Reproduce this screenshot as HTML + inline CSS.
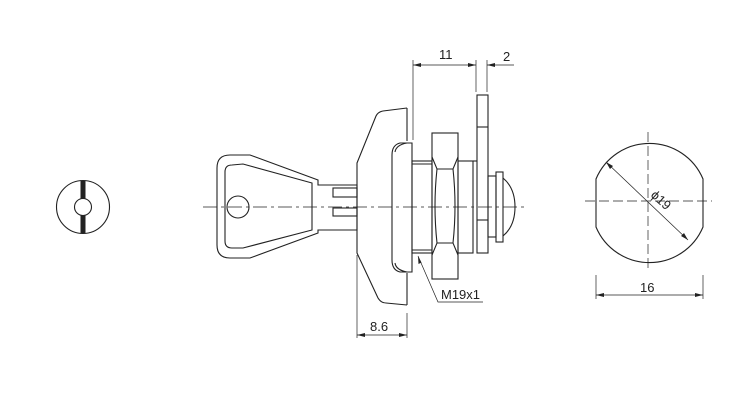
<!DOCTYPE html>
<html><head><style>
html,body{margin:0;padding:0;background:#fff}
svg{display:block}
text{font-family:"Liberation Sans",sans-serif;font-size:13px;fill:#222}
</style></head><body>
<svg width="751" height="401" viewBox="0 0 751 401" xmlns="http://www.w3.org/2000/svg">
<g fill="none" stroke="#222" stroke-width="1.1">
<circle cx="83" cy="207" r="26.5"/>
<rect x="80.5" y="181" width="5" height="52" fill="#222" stroke="none"/>
<circle cx="83" cy="207" r="8.5" fill="#fff"/>

<line x1="203" y1="207" x2="528" y2="207" stroke-width="0.7" stroke-dasharray="14,4,3,4"/>

<path d="M217,168 Q217,155 230,155 L250,155 L318,180 L318,185 L357,185 L357,230 L318,230 L318,233 L250,258 L230,258 Q217,258 217,245 Z"/>
<path d="M225,172 Q225,165 232,165 L243,164 L312,183 L312,230 L243,248 L232,248 Q225,248 225,241 Z"/>
<circle cx="238" cy="207" r="11"/>
<rect x="333" y="188" width="24" height="9"/>
<rect x="333" y="208" width="24" height="8"/>

<path d="M407,108 L383,111 Q378,112 376,116 L357,163 L357,253 L378,298 Q381,303 386,303 L407,305"/>
<line x1="407" y1="108" x2="407" y2="141"/>
<line x1="407" y1="273" x2="407" y2="305"/>
<path d="M412,143 L400,143 Q392,145 392,155 L392,260 Q392,270 400,272 L412,272 Z"/>
<path d="M407,143 Q396,145 395,152 M407,272 Q396,270 395,263"/>
<rect x="412" y="161" width="20" height="92"/>
<line x1="412" y1="164" x2="432" y2="164"/>
<line x1="412" y1="250" x2="432" y2="250"/>
<rect x="432" y="133" width="26" height="146"/>
<path d="M432,157 L437,169 L453,169 L458,157 M432,255 L437,243 L453,243 L458,255"/>
<path d="M437,169 Q433,206 437,243 M453,169 Q457,206 453,243"/>
<rect x="458" y="161" width="15" height="92"/>
<rect x="477" y="95" width="11" height="158"/>
<line x1="473" y1="161" x2="477" y2="161"/>
<line x1="477" y1="127" x2="488" y2="127"/>
<line x1="477" y1="220" x2="488" y2="220"/>
<rect x="488" y="176" width="8" height="61"/>
<rect x="496" y="172" width="7" height="70"/>
<path d="M503,178 Q515,188 515,207 Q515,226 503,236"/>

<g stroke-width="0.7">
<line x1="413" y1="60" x2="413" y2="140"/>
<line x1="476" y1="60" x2="476" y2="92"/>
<line x1="487" y1="60" x2="487" y2="92"/>
<line x1="413" y1="65" x2="476" y2="65"/>
<line x1="487" y1="65" x2="514" y2="65"/>
<line x1="357" y1="255" x2="357" y2="338"/>
<line x1="407" y1="313" x2="407" y2="338"/>
<line x1="357" y1="335" x2="407" y2="335"/>
<path d="M418,256 L438,302 L483,302"/>
<line x1="596" y1="275" x2="596" y2="299"/>
<line x1="703" y1="275" x2="703" y2="299"/>
<line x1="596" y1="295" x2="703" y2="295"/>
<line x1="606" y1="162" x2="688" y2="240"/>
<line x1="648" y1="132" x2="648" y2="270" stroke-dasharray="10,4"/>
<line x1="585" y1="201" x2="712" y2="201" stroke-dasharray="10,4"/>
</g>
</g>
<g fill="#222">
<path d="M413,65 l8,-2 v4 z M476,65 l-8,-2 v4 z M487,65 l8,-2 v4 z"/>
<path d="M357,335 l8,-2 v4 z M407,335 l-8,-2 v4 z"/>
<path d="M418,256 l0.5,8 l3,-1.5 z"/>
<path d="M596,295 l8,-2 v4 z M703,295 l-8,-2 v4 z"/>
<path d="M606,162 l4,7 l3,-3 z M688,240 l-7,-4 l3,-3 z"/>
</g>
<path d="M596,179 A58,58 0 0 1 703,179 L703,227 A58,58 0 0 1 596,227 Z" fill="none" stroke="#222" stroke-width="1.1"/>
<text x="439" y="59">11</text>
<text x="503" y="61">2</text>
<text x="370" y="331">8.6</text>
<text x="441" y="299">M19x1</text>
<text x="640" y="292">16</text>
<text x="0" y="0" transform="translate(650,196) rotate(42)">ϕ19</text>
</svg>
</body></html>
